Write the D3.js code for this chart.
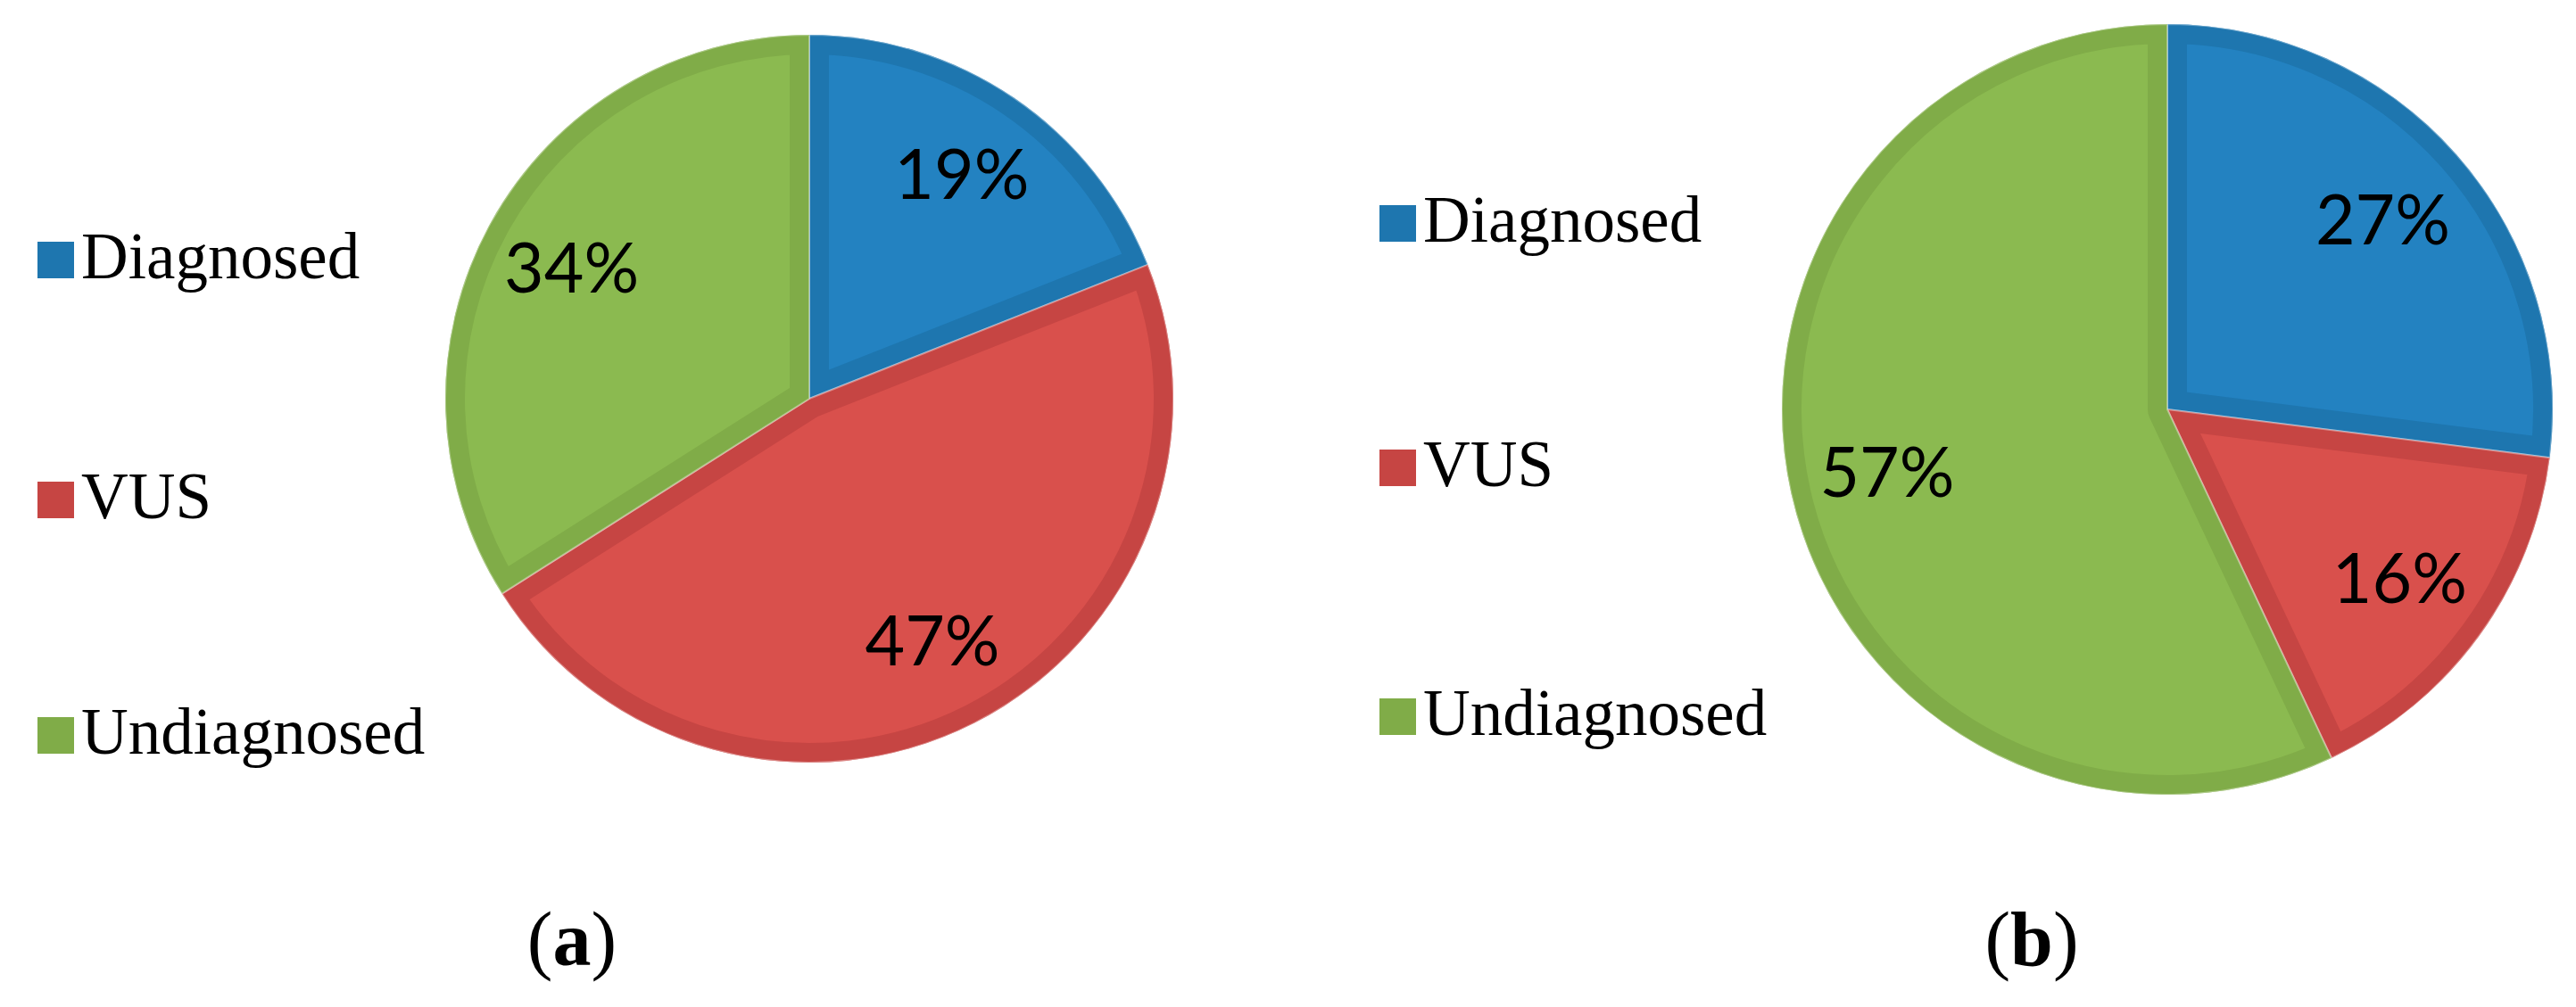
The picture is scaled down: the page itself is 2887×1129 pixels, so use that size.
<!DOCTYPE html>
<html>
<head>
<meta charset="utf-8">
<script src="https://cdn.jsdelivr.net/npm/d3@7/dist/d3.min.js"></script>
<style>
  body { margin: 0; background: #fff; }
  .legendText { font-family: "Liberation Serif", "Times New Roman", serif; font-size: 73px; fill: #000; }
  .pctLabel { font-family: Lato, "Liberation Sans", sans-serif; font-size: 77px; fill: #000; }
  .panelLabel { font-family: "Liberation Serif", "Times New Roman", serif; font-size: 86px; fill: #000; }
</style>
</head>
<body>
<svg id="chart"></svg>
<script>
// categories and values
var categories = ["Diagnosed", "VUS", "Undiagnosed"];
var valuesA = [19, 47, 34];
var valuesB = [27, 16, 57];
var panelNames = ["a", "b"];

var fillColors = ["#2382c1", "#d9504c", "#8bba50"];
var bandColors = ["#1e76af", "#c64543", "#80ac48"];

var W = 2887, H = 1129;
var bandWidth = 22;

// one entry per panel: where the pie, legend and caption sit
var panels = [
	{values: valuesA, cx: 907, cy: 447, r: 408, legendX: 42, legendY: [312, 581, 845], captionX: 641},
	{values: valuesB, cx: 2429, cy: 459, r: 432, legendX: 1546, legendY: [271, 545, 824], captionX: 2277}
];

var svg = d3.select("#chart")
	.attr("width", W)
	.attr("height", H);

var color = d3.scaleOrdinal().domain(categories).range(fillColors);
var band = d3.scaleOrdinal().domain(categories).range(bandColors);

var pie = d3.pie()
	.sort(null)
	.value(function(d){ return d.value; });

function drawPanel(p, idx){
	var data = categories.map(function(c, i){ return {name: c, value: p.values[i]}; });
	var arcs = pie(data);

	var arc = d3.arc().innerRadius(0).outerRadius(p.r);
	var labelArc = d3.arc().innerRadius(p.r * 0.745).outerRadius(p.r * 0.745);

	var g = svg.append("g")
		.attr("transform", "translate(" + p.cx + "," + p.cy + ")");

	var defs = svg.append("defs");
	arcs.forEach(function(a, i){
		defs.append("clipPath")
			.attr("id", "clip" + idx + "_" + i)
			.append("path")
			.attr("d", arc(a));
	});

	var slice = g.selectAll(".slice")
		.data(arcs)
		.enter().append("g")
		.attr("class", "slice");

	slice.append("path")
		.attr("d", arc)
		.style("fill", function(d){ return color(d.data.name); });

	// darker inner border, Excel style
	slice.append("path")
		.attr("d", arc)
		.attr("clip-path", function(d, i){ return "url(#clip" + idx + "_" + i + ")"; })
		.style("fill", "none")
		.style("stroke", function(d){ return band(d.data.name); })
		.style("stroke-width", bandWidth * 2)
		.style("stroke-linejoin", "round");

	// faint seam between slices
	slice.append("path")
		.attr("d", arc)
		.style("fill", "none")
		.style("stroke", "#ffffff")
		.style("stroke-opacity", 0.35)
		.style("stroke-width", 2);

	slice.append("text")
		.attr("class", "pctLabel")
		.attr("transform", function(d){ return "translate(" + labelArc.centroid(d) + ")"; })
		.attr("text-anchor", "middle")
		.attr("dy", "0.36em")
		.text(function(d){ return d.data.value + "%"; });

	// legend
	var leg = svg.selectAll(".legend" + idx)
		.data(categories)
		.enter().append("g")
		.attr("class", "legend" + idx);

	leg.append("rect")
		.attr("x", p.legendX)
		.attr("y", function(d, i){ return p.legendY[i] - 41; })
		.attr("width", 41)
		.attr("height", 41)
		.style("fill", function(d){ return band(d); });

	leg.append("text")
		.attr("class", "legendText")
		.attr("x", p.legendX + 49)
		.attr("y", function(d, i){ return p.legendY[i]; })
		.text(function(d){ return d; });

	// caption (a) / (b)
	var cap = svg.append("text")
		.attr("class", "panelLabel")
		.attr("x", p.captionX)
		.attr("y", 1082)
		.attr("text-anchor", "middle");
	cap.append("tspan").text("(");
	cap.append("tspan").style("font-weight", "bold").text(panelNames[idx]);
	cap.append("tspan").text(")");
}

panels.forEach(drawPanel);
</script>
</body>
</html>
